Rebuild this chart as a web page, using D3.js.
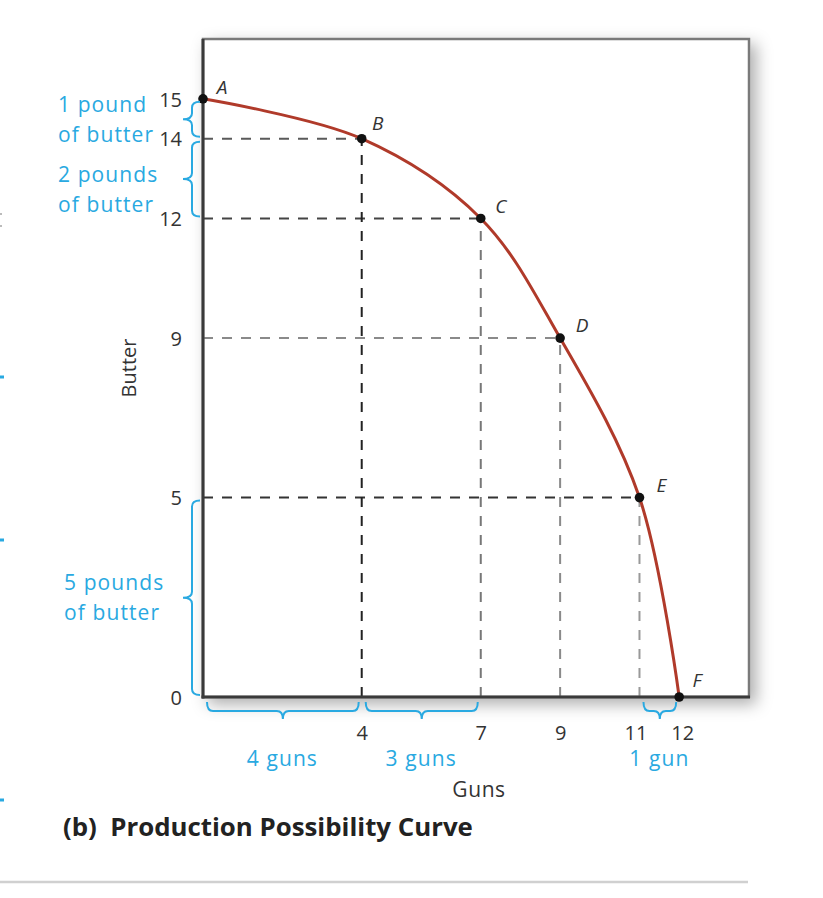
<!DOCTYPE html>
<html><head><meta charset="utf-8">
<script src="https://cdn.jsdelivr.net/npm/d3@7/dist/d3.min.js"></script>
<style>
html,body{margin:0;padding:0;background:#fff;}
svg{display:block;font-family:"Open Sans","Noto Sans",sans-serif;}
</style></head>
<body>
<svg id="chart" width="823" height="898"></svg>
<script>
// ---- data ----
const pointLabels = ["A","B","C","D","E","F"];
const guns   = [0, 4, 7, 9, 11, 12];
const butter = [15, 14, 12, 9, 5, 0];
const xTickValues = [4, 7, 9, 11, 12];
const yTickValues = [0, 5, 9, 12, 14, 15];
const yBraces = [[15,14,"1 pound","of butter"],[14,12,"2 pounds","of butter"],[5,0,"5 pounds","of butter"]];
const xBraces = [[0,4,"4 guns"],[4,7,"3 guns"],[11,12,"1 gun"]];
const xTitle = "Guns", yTitle = "Butter", figTitle = "(b)  Production Possibility Curve";

// ---- layout ----
const svg = d3.select("#chart");
const blue = "#29a9e1", ink = "#333";
const x = d3.scaleLinear().domain([0, 13.76]).range([203, 749]);
const y = d3.scaleLinear().domain([0, 16.5]).range([697, 39]);

const defs = svg.append("defs");
const f = defs.append("filter").attr("id","sh").attr("x","-10%").attr("y","-10%").attr("width","130%").attr("height","130%");
f.append("feDropShadow").attr("dx",6).attr("dy",6).attr("stdDeviation",8).attr("flood-color","#000").attr("flood-opacity",0.32);

// frame
svg.append("rect").attr("x",x(0)).attr("y",y(16.5)).attr("width",x(13.76)-x(0)).attr("height",y(0)-y(16.5))
  .attr("fill","#fff").attr("stroke","#7a7a7a").attr("stroke-width",2.5).attr("filter","url(#sh)");

// dashed guides
const dashColH = ["#555","#5a5a5a","#444","#8a8a8a","#333","#333"];
const dashColV = ["#333","#222","#777","#8a8a8a","#999","#999"];
const pts = guns.map((g,i)=>({g, b:butter[i], l:pointLabels[i], i}));
const gd = svg.append("g").attr("fill","none").attr("stroke-width",2).attr("stroke-dasharray","10,9");
pts.filter(p=>p.g>0 && p.b>0).forEach(p=>{
  gd.append("line").attr("x1",x(0)).attr("x2",x(p.g)).attr("y1",y(p.b)).attr("y2",y(p.b)).attr("stroke",dashColH[p.i]);
});
pts.filter(p=>p.g>0 && p.b>0).forEach(p=>{
  gd.append("line").attr("x1",x(p.g)).attr("x2",x(p.g)).attr("y1",y(0)).attr("y2",y(p.b)).attr("stroke",dashColV[p.i]);
});

// axes (left and bottom thick)
svg.append("line").attr("x1",x(0)).attr("x2",x(0)).attr("y1",y(16.5)).attr("y2",y(0)+1.5).attr("stroke","#3a3a3a").attr("stroke-width",3);
svg.append("line").attr("x1",x(0)-1.5).attr("x2",x(13.76)+1).attr("y1",y(0)).attr("y2",y(0)).attr("stroke","#3a3a3a").attr("stroke-width",3);

// tick labels via d3 axes (no lines)
const ya = svg.append("g").attr("transform",`translate(${x(0)-21},0)`)
  .call(d3.axisLeft(y).tickValues(yTickValues).tickSize(0).tickPadding(0));
const xa = svg.append("g").attr("transform",`translate(0,${y(0)+29})`)
  .call(d3.axisBottom(x).tickValues(xTickValues).tickSize(0).tickPadding(0));
[ya,xa].forEach(a=>{a.select(".domain").remove(); a.selectAll("text").attr("font-size",20).attr("fill",ink).attr("font-family","Open Sans, sans-serif");});
ya.selectAll("text").attr("dy","0.36em");
xa.selectAll("text").attr("dy","0.71em");
xa.selectAll("text").filter(d=>d===11).attr("dx",-4);
xa.selectAll("text").filter(d=>d===12).attr("dx",3);

// curve
const line = d3.line().x(d=>x(d.g)).y(d=>y(d.b)).curve(d3.curveCatmullRom.alpha(0.5));
svg.append("path").datum(pts).attr("d",line).attr("fill","none").attr("stroke","#b03a2a").attr("stroke-width",3);

// points
svg.append("g").selectAll("circle").data(pts).join("circle")
  .attr("cx",d=>x(d.g)).attr("cy",d=>y(d.b)).attr("r",4.8).attr("fill","#111");
const lblOff = {A:[19,-12],B:[16,-16],C:[20,-12],D:[22,-13],E:[22,-13],F:[18,-17]};
svg.append("g").selectAll("text").data(pts).join("text")
  .attr("x",d=>x(d.g)+lblOff[d.l][0]).attr("y",d=>y(d.b)+lblOff[d.l][1]+7)
  .attr("text-anchor","middle").attr("font-style","italic").attr("font-size",19).attr("fill",ink).text(d=>d.l);

// braces
function vBrace(y1,y2){ // left-pointing brace at left of axis
  const xe=200, xs=192, xt=183, r=6, ym=(y1+y2)/2;
  return `M${xe},${y1} Q${xs},${y1} ${xs},${y1+r} L${xs},${ym-r} Q${xs},${ym} ${xt},${ym} Q${xs},${ym} ${xs},${ym+r} L${xs},${y2-r} Q${xs},${y2} ${xe},${y2}`;
}
function hBrace(x1,x2){ // downward brace under axis
  const ye=702, ys=711, yt=719, r=6, xm=(x1+x2)/2;
  return `M${x1},${ye} Q${x1},${ys} ${x1+r},${ys} L${xm-r},${ys} Q${xm},${ys} ${xm},${yt} Q${xm},${ys} ${xm+r},${ys} L${x2-r},${ys} Q${x2},${ys} ${x2},${ye}`;
}
const bg = svg.append("g").attr("fill","none").attr("stroke",blue).attr("stroke-width",2);
yBraces.forEach(b=>bg.append("path").attr("d",vBrace(y(b[0])+3,y(b[1])-2)));
xBraces.forEach(b=>bg.append("path").attr("d",hBrace(x(b[0])+4,x(b[1])-3)));

const tg = svg.append("g").attr("fill",blue).attr("font-size",21).attr("letter-spacing","1.1px");
const yLblX = [58,58,64];
const yLblBase = [[112,142],[182,212],[590,620]];
yBraces.forEach((b,i)=>{
  tg.append("text").attr("x",yLblX[i]).attr("y",yLblBase[i][0]).text(b[2]);
  tg.append("text").attr("x",yLblX[i]).attr("y",yLblBase[i][1]).text(b[3]);
});
const xLblDx = [0,0,0];
xBraces.forEach((b,i)=>{
  tg.append("text").attr("x",(x(b[0])+x(b[1]))/2+xLblDx[i]).attr("y",766).attr("text-anchor","middle").text(b[2]);
});

// axis titles
svg.append("text").attr("x",479).attr("y",797).attr("text-anchor","middle").attr("font-size",21).attr("letter-spacing","0.6px").attr("fill",ink).text(xTitle);
svg.append("text").attr("transform","translate(136,368) rotate(-90)").attr("text-anchor","middle").attr("font-size",20).attr("fill",ink).text(yTitle);

// figure title (fit to reference width)
const tt = svg.append("text").attr("x",63).attr("y",836).attr("font-size",100).attr("font-weight","bold").attr("fill","#222")
  .attr("font-family","Open Sans, sans-serif").attr("xml:space","preserve").style("white-space","pre").text(figTitle);
const w100 = tt.node().getComputedTextLength();
tt.attr("font-size", 100*410/w100);

// bottom rule
svg.append("line").attr("x1",0).attr("x2",748).attr("y1",882).attr("y2",882).attr("stroke","#d0d0d0").attr("stroke-width",2.5);

// cropped-edge remnants
[377,540,800].forEach(v=>svg.append("rect").attr("x",0).attr("y",v-1.5).attr("width",4).attr("height",3).attr("fill",blue));
[214,226].forEach(v=>svg.append("rect").attr("x",0).attr("y",v-1).attr("width",2).attr("height",2).attr("fill","#bbb"));
</script>
</body></html>
